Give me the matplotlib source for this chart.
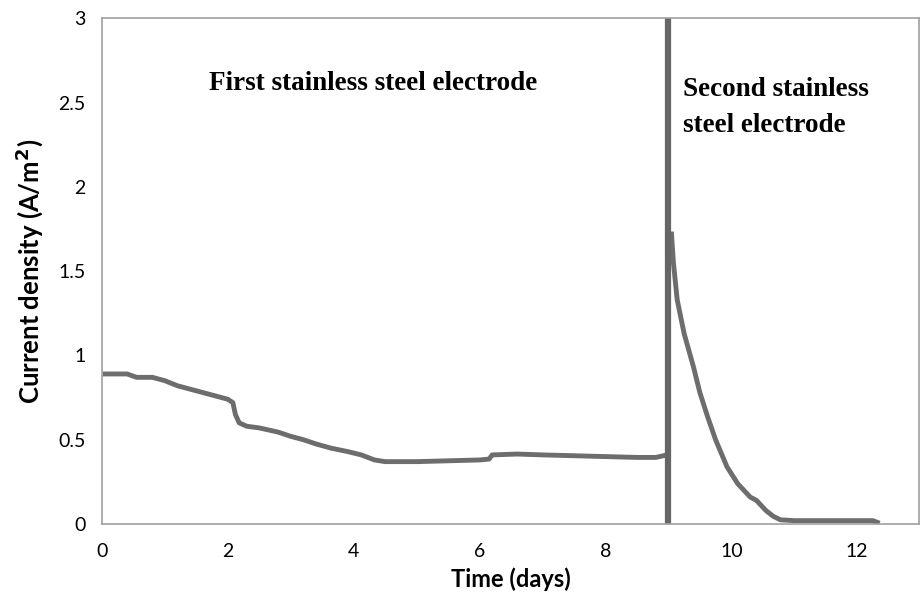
import matplotlib.pyplot as plt

# first stainless steel electrode (days, A/m2)
t1 = [0.05, 0.2, 0.4, 0.55, 0.8, 1.0, 1.2, 1.4, 1.6, 1.8, 2.0, 2.08, 2.12, 2.18, 2.3, 2.5,
      2.8, 3.0, 3.2, 3.4, 3.64, 3.9, 4.12, 4.33, 4.5, 5.0, 5.5, 6.0, 6.15, 6.2, 6.6, 7.0,
      7.5, 8.0, 8.5, 8.8, 8.98]
j1 = [0.89, 0.89, 0.89, 0.87, 0.87, 0.85, 0.82, 0.80, 0.78, 0.76, 0.74, 0.72, 0.65, 0.60,
      0.58, 0.57, 0.545, 0.52, 0.50, 0.475, 0.45, 0.43, 0.41, 0.38, 0.37, 0.37, 0.375, 0.38,
      0.385, 0.41, 0.415, 0.41, 0.405, 0.40, 0.395, 0.395, 0.41]

# second stainless steel electrode
t2 = [9.05, 9.08, 9.14, 9.25, 9.4, 9.5, 9.62, 9.75, 9.93, 10.1, 10.3, 10.4, 10.45, 10.55,
      10.67, 10.78, 11.0, 11.5, 12.0, 12.25, 12.32]
j2 = [1.72, 1.55, 1.33, 1.13, 0.93, 0.78, 0.64, 0.50, 0.34, 0.24, 0.16, 0.14, 0.12, 0.08,
      0.045, 0.025, 0.02, 0.02, 0.02, 0.02, 0.01]

switch_day = 9.0
x_ticks = [0, 2, 4, 6, 8, 10, 12]
y_ticks = [0, 0.5, 1, 1.5, 2, 2.5, 3]
y_tick_labels = ['0', '0.5', '1', '1.5', '2', '2.5', '3']

fig = plt.figure(figsize=(9.22, 6.07), dpi=100)
ax = fig.add_axes([0.1106, 0.1367, 0.886, 0.8333])

ax.plot(t1, j1, color='#6d6d6d', linewidth=3.5, solid_joinstyle='round')
ax.plot(t2, j2, color='#6d6d6d', linewidth=3.5, solid_joinstyle='round')
ax.axvline(switch_day, color='#666666', linewidth=4.5)

ax.set_xlim(0, 12.98)
ax.set_ylim(0, 3)
ax.set_xticks(x_ticks)
ax.set_yticks(y_ticks)
ax.set_yticklabels(y_tick_labels)
ax.tick_params(length=0, labelsize=14)
ax.tick_params(axis='x', pad=14)
ax.tick_params(axis='y', pad=12)
for lab in ax.get_xticklabels() + ax.get_yticklabels():
    lab.set_family('Lato')

for s in ax.spines.values():
    s.set_color('#a0a0a0')
    s.set_linewidth(1.2)

ax.set_xlabel('Time (days)', fontsize=17, fontweight='bold', family='Lato', labelpad=5)
ax.set_ylabel('Current density (A/m$^{\\mathbf{2}}$)', fontsize=18.5, fontweight='bold',
              family='Lato', labelpad=9)

ax.text(4.31, 2.61, 'First stainless steel electrode', ha='center', va='center',
        fontsize=19.5, fontweight='bold', family='Liberation Serif')
ax.text(9.24, 2.47, 'Second stainless\nsteel electrode', ha='left', va='center',
        fontsize=19.5, fontweight='bold', family='Liberation Serif', linespacing=1.6)

fig.savefig('out.png', dpi=100)
